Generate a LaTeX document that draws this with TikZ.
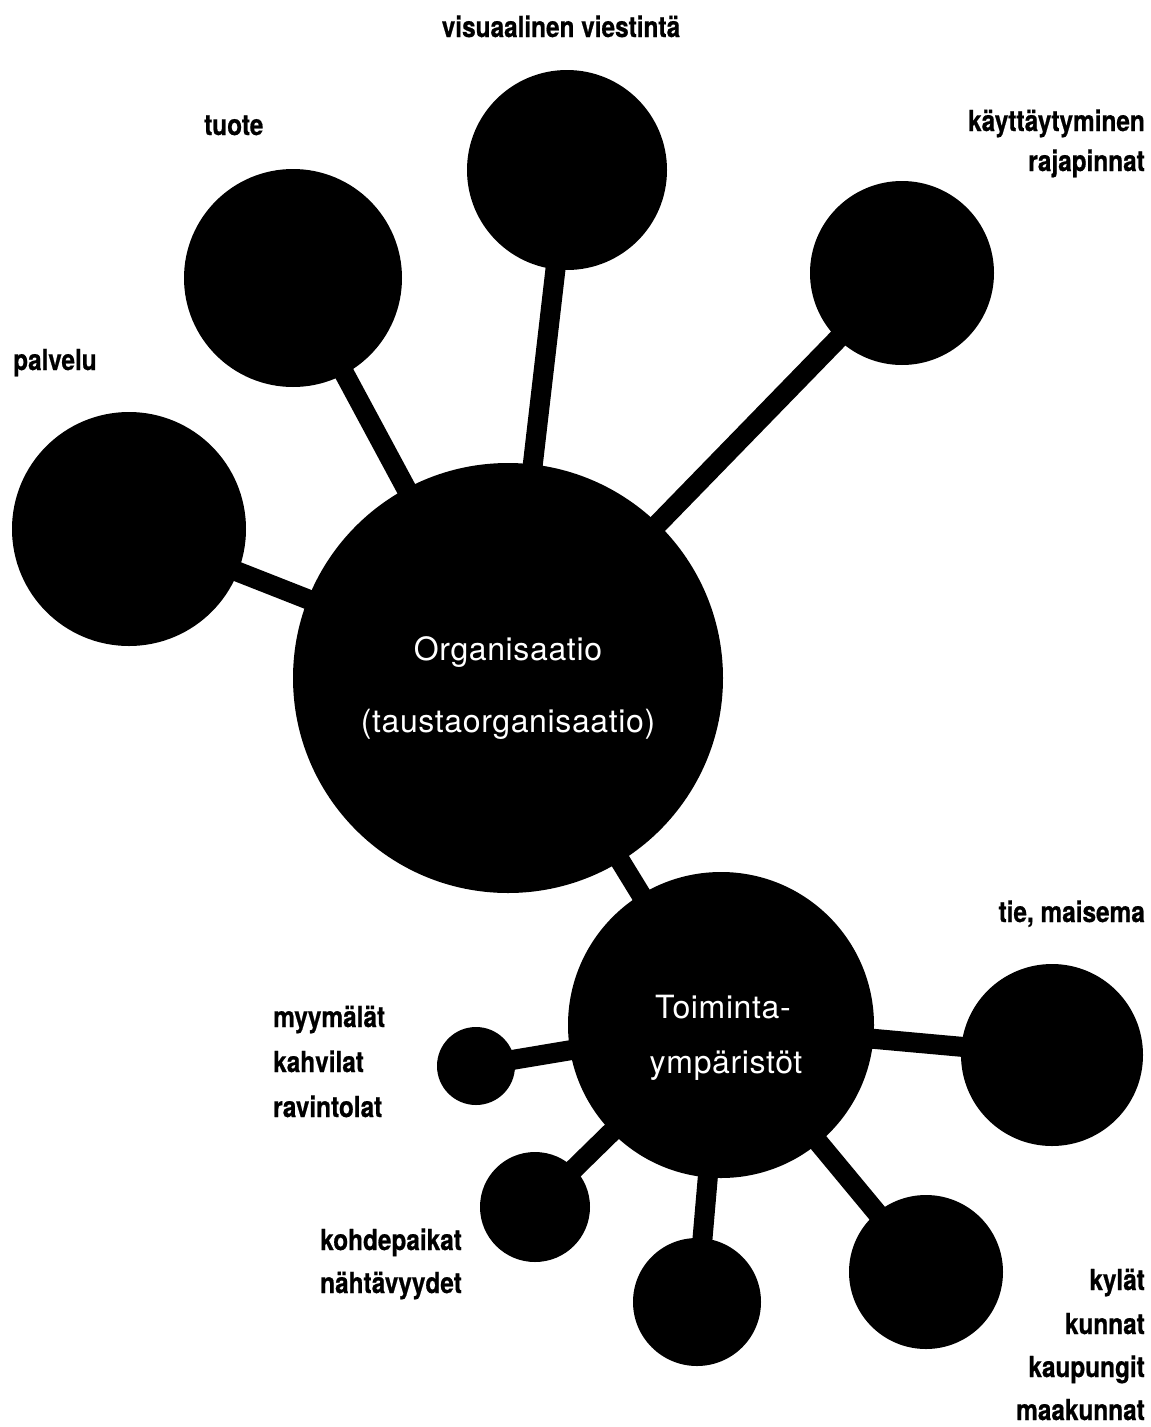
\documentclass[tikz,border=0pt]{standalone}
\usepackage{fontspec}
\usetikzlibrary{backgrounds}
\newfontfamily\lblfont[FakeStretch=0.84,FakeBold=0.6]{TeX Gyre Heros}
\newfontfamily\hubfont[LetterSpace=2]{TeX Gyre Heros}

\begin{document}
\begin{tikzpicture}[x=1pt,y=-1pt,
  ball/.style={circle, fill=black, draw=none, inner sep=0pt, minimum size=#1},
  link/.style={line width=20pt, draw=black},
  lbl/.style={inner sep=0pt, font=\lblfont\bfseries\fontsize{29}{34}\selectfont},
  hubtxt/.style={inner sep=0pt, text=white, font=\hubfont\fontsize{32}{38}\selectfont}]
\useasboundingbox (0,0) rectangle (1151,1427);

% upper cluster
\node[ball=430] (org) at (508,678) {};
\node[ball=234] (pal) at (129,529) {};
\node[ball=218] (tuo) at (293,278) {};
\node[ball=200] (vis) at (567,170) {};
\node[ball=184] (kay) at (902,273) {};

% lower cluster
\node[ball=306] (toi) at (721,1025) {};
\node[ball=182] (tie) at (1052,1055) {};
\node[ball=78]  (myy) at (476,1066) {};
\node[ball=110] (koh) at (535,1207) {};
\node[ball=128] (ala) at (697,1302) {};
\node[ball=154] (kyl) at (926,1272) {};

% spokes
\begin{scope}[on background layer]
  \draw[link] (org.center) -- (pal.center);
  \draw[link] (org.center) -- (tuo.center);
  \draw[link] (org.center) -- (vis.center);
  \draw[link] (org.center) -- (kay.center);
  \draw[link] (org.center) -- (toi.center);
  \draw[link] (toi.center) -- (tie.center);
  \draw[link] (toi.center) -- (myy.center);
  \draw[link] (toi.center) -- (koh.center);
  \draw[link] (toi.center) -- (ala.center);
  \draw[link] (toi.center) -- (kyl.center);
\end{scope}

% text inside the hubs
\node[hubtxt, anchor=base] (org1) at (508,660) {Organisaatio};
\node[hubtxt, anchor=base] (org2) at (508,732) {(taustaorganisaatio)};
\node[hubtxt, anchor=base] (toi1) at (723,1018) {Toiminta-};
\node[hubtxt, anchor=base] (toi2) at (726,1073) {ympäristöt};

% outer labels
\node[lbl, anchor=base] (lvis) at (561,37) {visuaalinen viestintä};
\node[lbl, anchor=base west] (ltuo) at (204,135) {tuote};
\node[lbl, anchor=base east] (lkay1) at (1145,131) {käyttäytyminen};
\node[lbl, anchor=base east] (lkay2) at (1145,171) {rajapinnat};
\node[lbl, anchor=base west] (lpal) at (13,370) {palvelu};
\node[lbl, anchor=base east] (ltie) at (1145,922) {tie, maisema};

\node[lbl, anchor=base west] (lmyy1) at (273,1027) {myymälät};
\node[lbl, anchor=base west] (lmyy2) at (273,1072) {kahvilat};
\node[lbl, anchor=base west] (lmyy3) at (273,1117) {ravintolat};

\node[lbl, anchor=base west] (lkoh1) at (320,1250) {kohdepaikat};
\node[lbl, anchor=base west] (lkoh2) at (320,1293) {nähtävyydet};

\node[lbl, anchor=base east] (lkyl1) at (1145,1290) {kylät};
\node[lbl, anchor=base east] (lkyl2) at (1145,1334) {kunnat};
\node[lbl, anchor=base east] (lkyl3) at (1145,1377) {kaupungit};
\node[lbl, anchor=base east] (lkyl4) at (1145,1420) {maakunnat};
\end{tikzpicture}
\end{document}
